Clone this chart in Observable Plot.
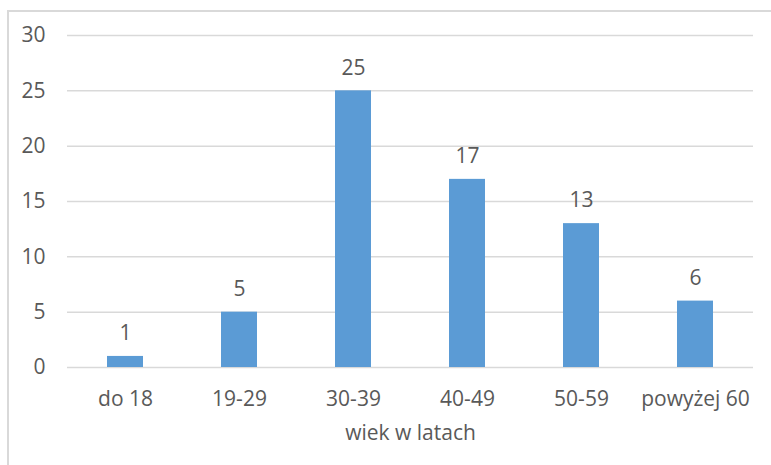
<!DOCTYPE html>
<html>
<head>
<meta charset="utf-8">
<script src="https://cdn.jsdelivr.net/npm/d3@7"></script>
<script src="https://cdn.jsdelivr.net/npm/@observablehq/plot@0.6"></script>
<style>
  html, body { margin: 0; padding: 0; background: #fff; }
  #wrap { position: relative; width: 771px; height: 465px; overflow: hidden; }
  #border { position: absolute; left: 7px; top: 10px; width: 800px; height: 500px; border: 2px solid #d9d9d9; box-sizing: border-box; }
  #chart { position: absolute; left: 0; top: 0; }
</style>
</head>
<body>
<div id="wrap"><div id="border"></div><div id="chart"></div></div>
<script>
const categories = ["do 18", "19-29", "30-39", "40-49", "50-59", "powyżej 60"];
const values = [1, 5, 25, 17, 13, 6];
const yTicks = [0, 5, 10, 15, 20, 25, 30];
const xTitle = "wiek w latach";

const data = categories.map((c, i) => ({category: c, value: values[i]}));
const textColor = "#595959";
const font = "Open Sans";
const fs = 21;

const chart = Plot.plot({
  width: 771,
  height: 465,
  marginLeft: 67,
  marginRight: 18,
  marginTop: 35,
  marginBottom: 98,
  style: {fontFamily: font, fontSize: fs + "px", color: textColor, background: "transparent", overflow: "visible"},
  x: {domain: categories, paddingInner: 0.685, paddingOuter: 0.3425, align: 0.5, label: null},
  y: {domain: [0, 30], label: null},
  marks: [
    Plot.ruleY(yTicks, {stroke: "#d9d9d9", strokeWidth: 1.5}),
    Plot.barY(data, {x: "category", y: "value", fill: "#5B9BD5"}),
    Plot.text(data, {x: "category", y: "value", text: d => String(d.value), dy: -23, fill: textColor, fontSize: fs}),
    Plot.axisY(yTicks, {tickSize: 0, tickPadding: 22, fill: textColor, fontSize: fs, label: null}),
    Plot.axisX({tickSize: 0, tickPadding: 24, fill: textColor, fontSize: fs, label: null}),
    Plot.text([xTitle], {frameAnchor: "bottom", dy: 72, fill: textColor, fontSize: fs})
  ]
});
document.getElementById("chart").appendChild(chart);
</script>
</body>
</html>
